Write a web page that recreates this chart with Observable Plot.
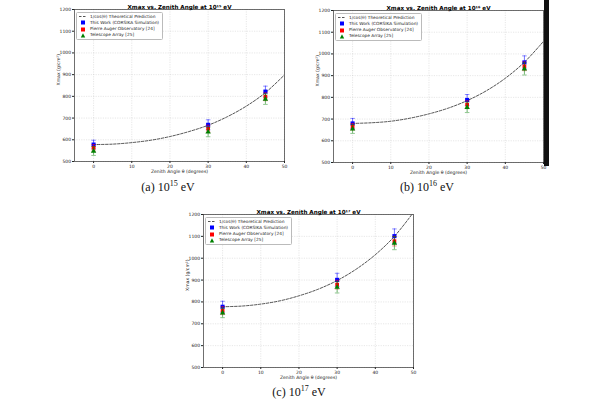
<!DOCTYPE html>
<html>
<head>
<meta charset="utf-8">
<script src="https://cdn.jsdelivr.net/npm/d3@7"></script>
<script src="https://cdn.jsdelivr.net/npm/@observablehq/plot@0.6"></script>
<style>
  html, body { margin: 0; padding: 0; background: #fff; }
  #root { position: relative; width: 600px; height: 400px; overflow: hidden; background: #fff; }
  .panel { position: absolute; }
  .caption { position: absolute; font-family: "Liberation Serif", "DejaVu Serif", serif; font-size: 12px; color: #111; transform: translate(-50%, -50%); white-space: nowrap; }
  .caption sup { font-size: 8px; }
  .legend { position: absolute; border: 0.7px solid #bbb; border-radius: 1.5px; background: rgba(255,255,255,0.85); font-family: "DejaVu Sans", sans-serif; font-size: 4.3px; color: #222; padding: 1px 3px 1px 2px; line-height: 6.2px; }
  .legend div { display: flex; align-items: center; white-space: nowrap; }
  .legend svg { margin-right: 3px; }
</style>
</head>
<body>
<div id="root"></div>
<script>
// ---- data ----
const angles = [0, 30, 45];
const curveAngles = [0, 5, 10, 15, 20, 25, 30, 35, 40, 45, 50];
const yTicks = [500, 600, 700, 800, 900, 1000, 1100, 1200];
const xTicks = [0, 10, 20, 30, 40, 50];

const seriesNames = ["1/cos(θ) Theoretical Prediction", "This Work (CORSIKA Simulation)", "Pierre Auger Observatory [24]", "Telescope Array [25]"];

// 10^15 eV
const theory15 = [578, 580, 587, 598, 615, 638, 667, 706, 755, 817, 899];
const thisWork15 = [578, 669, 822];
const thisWorkErr15 = [20, 23, 25];
const auger15 = [563, 651, 798];
const augerErr15 = [15, 16, 18];
const ta15 = [548, 636, 787];
const taErr15 = [20, 22, 24];

// 10^16 eV
const theory16 = [680, 683, 690, 704, 724, 750, 785, 830, 888, 962, 1058];
const thisWork16 = [680, 788, 961];
const thisWorkErr16 = [23, 25, 30];
const auger16 = [665, 766, 943];
const augerErr16 = [15, 18, 20];
const ta16 = [654, 754, 931];
const taErr16 = [20, 24, 28];

// 10^17 eV
const theory17 = [778, 781, 790, 805, 828, 858, 898, 950, 1016, 1100, 1210];
const thisWork17 = [778, 901, 1101];
const thisWorkErr17 = [25, 30, 33];
const auger17 = [760, 879, 1078];
const augerErr17 = [18, 20, 22];
const ta17 = [750, 867, 1069];
const taErr17 = [22, 26, 30];

const colBlue = "#0000ff", colRed = "#ff0000", colGreen = "#008000";

const root = document.getElementById("root");

function pts(vals, errs) {
  return angles.map((a, i) => ({x: a, y: vals[i], e: errs[i]}));
}

function errMarks(data, color) {
  return [
    Plot.ruleX(data, {x: "x", y1: d => d.y - d.e, y2: d => d.y + d.e, stroke: color, strokeOpacity: 0.55, strokeWidth: 1}),
    Plot.link(data, {x1: d => d.x - 0.6, x2: d => d.x + 0.6, y1: d => d.y - d.e, y2: d => d.y - d.e, stroke: color, strokeOpacity: 0.55, strokeWidth: 0.8}),
    Plot.link(data, {x1: d => d.x - 0.6, x2: d => d.x + 0.6, y1: d => d.y + d.e, y2: d => d.y + d.e, stroke: color, strokeOpacity: 0.55, strokeWidth: 0.8})
  ];
}

function makePanel(cfg) {
  const curve = curveAngles.map((a, i) => ({x: a, y: cfg.theory[i]}));
  const blue = pts(cfg.work, cfg.workErr);
  const red = pts(cfg.auger, cfg.augerErr);
  const green = pts(cfg.ta, cfg.taErr);
  const chart = Plot.plot({
    width: cfg.w, height: cfg.h,
    marginLeft: cfg.ml, marginRight: cfg.mr, marginTop: cfg.mt, marginBottom: cfg.mb,
    style: {fontFamily: "DejaVu Sans, sans-serif", fontSize: "4.5px", color: "#222", background: "transparent", overflow: "visible"},
    x: {domain: [-5, 50], ticks: xTicks, tickSize: 2, tickPadding: 1.5, label: null, tickFormat: d => String(d)},
    y: {domain: [500, 1200], ticks: yTicks, tickSize: 2, tickPadding: 1.5, label: null, tickFormat: d => String(d)},
    marks: [
      Plot.gridX(xTicks, {stroke: "#b0b0b0", strokeOpacity: 0.6, strokeDasharray: "1.2,1.2", strokeWidth: 0.5}),
      Plot.gridY(yTicks, {stroke: "#b0b0b0", strokeOpacity: 0.6, strokeDasharray: "1.2,1.2", strokeWidth: 0.5}),
      Plot.line(curve, {x: "x", y: "y", stroke: "#000", strokeOpacity: 0.75, strokeWidth: 0.9, strokeDasharray: "2.5,1.5", curve: "catmull-rom", clip: true}),
      ...errMarks(blue, colBlue),
      Plot.dot(blue, {x: "x", y: "y", symbol: "square", r: 2.3, fill: colBlue, stroke: "none"}),
      ...errMarks(red, colRed),
      Plot.dot(red, {x: "x", y: "y", symbol: "square", r: 2.1, fill: colRed, stroke: "none"}),
      ...errMarks(green, colGreen),
      Plot.dot(green, {x: "x", y: "y", symbol: "triangle", r: 2.0, fill: colGreen, stroke: "none"}),
      Plot.frame({stroke: "#333", strokeWidth: 0.7}),
      Plot.text([cfg.title], {text: d => d, frameAnchor: "top", dy: -4.5, fontWeight: "bold", fontSize: 5.6, fill: "#000"}),
      Plot.text(["Zenith Angle θ (degrees)"], {text: d => d, frameAnchor: "bottom", dy: 11.5, fontSize: 4.6, fill: "#222"}),
      Plot.text(["Xmax (g/cm²)"], {text: d => d, frameAnchor: "left", dx: -16, rotate: -90, fontSize: 4.6, fill: "#222"})
    ]
  });
  chart.classList.add("panel");
  chart.style.left = cfg.left + "px";
  chart.style.top = cfg.top + "px";
  root.appendChild(chart);

  // legend (inside frame, upper left)
  const lg = document.createElement("div");
  lg.className = "legend";
  lg.style.left = (cfg.left + cfg.ml + 2) + "px";
  lg.style.top = (cfg.top + cfg.mt + 2.5) + "px";
  const sw = [
    `<svg width="8" height="5"><line x1="0" y1="2.5" x2="8" y2="2.5" stroke="#000" stroke-opacity="0.75" stroke-width="0.9" stroke-dasharray="2.5,1.5"/></svg>`,
    `<svg width="8" height="5"><rect x="2" y="0.5" width="4" height="4" fill="${colBlue}"/></svg>`,
    `<svg width="8" height="5"><rect x="2" y="0.5" width="4" height="4" fill="${colRed}"/></svg>`,
    `<svg width="8" height="5"><polygon points="4,0.3 6.2,4.5 1.8,4.5" fill="${colGreen}"/></svg>`
  ];
  lg.innerHTML = seriesNames.map((n, i) => `<div>${sw[i]}<span>${n}</span></div>`).join("");
  root.appendChild(lg);

  const cap = document.createElement("div");
  cap.className = "caption";
  cap.style.left = cfg.capX + "px";
  cap.style.top = cfg.capY + "px";
  cap.innerHTML = cfg.caption;
  root.appendChild(cap);
}

makePanel({left: 35, top: 0, w: 260, h: 182, ml: 39, mr: 11, mt: 9, mb: 21,
  theory: theory15, work: thisWork15, workErr: thisWorkErr15, auger: auger15, augerErr: augerErr15, ta: ta15, taErr: taErr15,
  title: "Xmax vs. Zenith Angle at 10¹⁵ eV", caption: "(a) 10<sup>15</sup> eV", capX: 168, capY: 187});

makePanel({left: 294, top: 0, w: 260, h: 182, ml: 39, mr: 11, mt: 10, mb: 20,
  theory: theory16, work: thisWork16, workErr: thisWorkErr16, auger: auger16, augerErr: augerErr16, ta: ta16, taErr: taErr16,
  title: "Xmax vs. Zenith Angle at 10¹⁶ eV", caption: "(b) 10<sup>16</sup> eV", capX: 427, capY: 187});

makePanel({left: 164, top: 200, w: 260, h: 185, ml: 39, mr: 11, mt: 14, mb: 18,
  theory: theory17, work: thisWork17, workErr: thisWorkErr17, auger: auger17, augerErr: augerErr17, ta: ta17, taErr: taErr17,
  title: "Xmax vs. Zenith Angle at 10¹⁷ eV", caption: "(c) 10<sup>17</sup> eV", capX: 299, capY: 392});

// dark strip at the right edge of panel (b), as in the reference
const strip = document.createElement("div");
strip.style.cssText = "position:absolute;left:544px;top:0;width:5px;height:166px;background:#111;";
root.appendChild(strip);
</script>
</body>
</html>
